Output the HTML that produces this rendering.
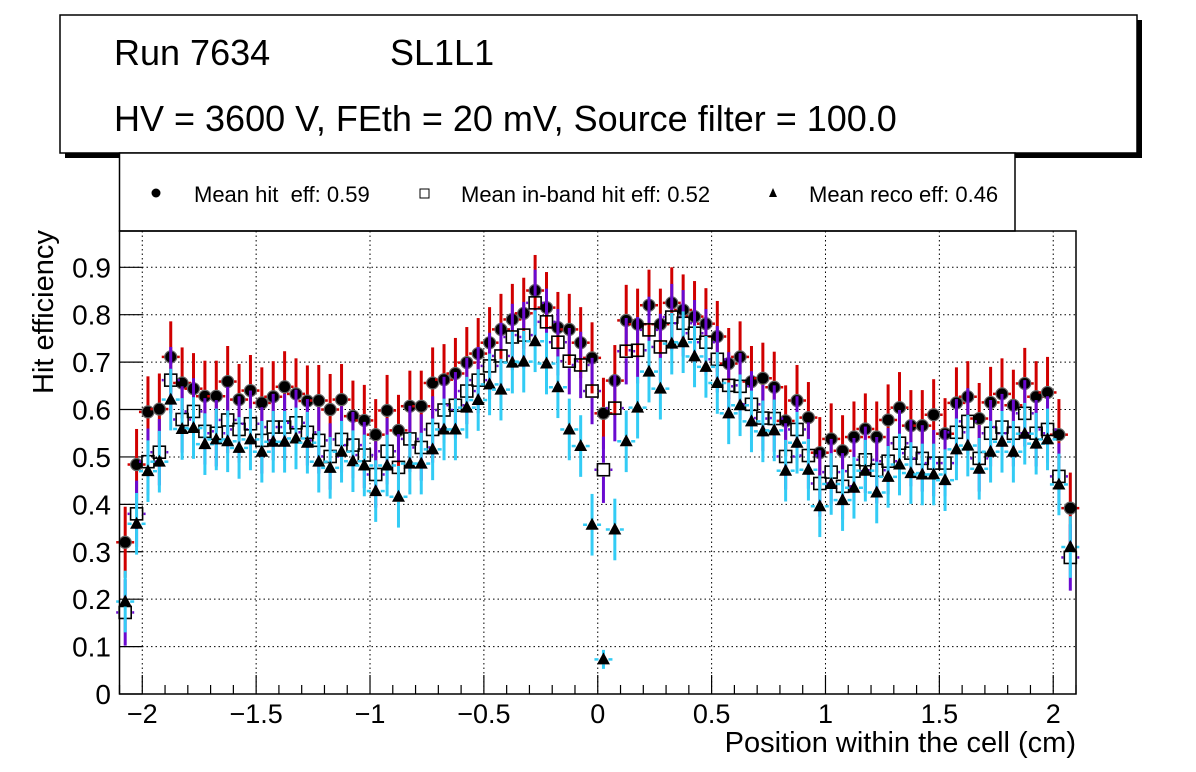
<!DOCTYPE html>
<html><head><meta charset="utf-8"><style>
html,body{margin:0;padding:0;background:#fff;}
svg{display:block;font-family:"Liberation Sans",Arial,sans-serif;}
</style></head><body>
<svg id="chart" width="1196" height="772" viewBox="0 0 1196 772" xmlns="http://www.w3.org/2000/svg">
  <rect x="0" y="0" width="1196" height="772" fill="#fff"/>
  <g>
    <rect x="65" y="20" width="1077" height="138" fill="#000"/>
    <rect x="60" y="15" width="1077" height="138" fill="#fff" stroke="#000" stroke-width="1.5"/>
    <text x="114" y="65" font-size="36">Run 7634</text>
    <text x="390" y="65" font-size="36">SL1L1</text>
    <text x="114" y="131" font-size="36">HV = 3600 V, FEth = 20 mV, Source filter = 100.0</text>
  </g>
  <g>
    <rect x="119.5" y="153" width="895.5" height="78" fill="#fff" stroke="#000" stroke-width="1.5"/>
    <circle cx="156" cy="193" r="4.5" fill="#000"/>
    <text x="194" y="202" font-size="22">Mean hit&#160; eff: 0.59</text>
    <rect x="420" y="189" width="9" height="9" fill="#fff" stroke="#000" stroke-width="1"/>
    <text x="461" y="202" font-size="22">Mean in-band hit eff: 0.52</text>
    <polygon points="773,188 769,197 777,197" fill="#000"/>
    <text x="809" y="202" font-size="22">Mean reco eff: 0.46</text>
  </g>
  <g id="grid"></g>
  <g id="axes"></g>
  <g id="marks"></g>
  <rect x="119.5" y="231" width="956.5" height="463" fill="none" stroke="#000" stroke-width="1.5"/>
  <text transform="translate(53,394) rotate(-90)" font-size="29">Hit efficiency</text>
  <text x="1076" y="752" font-size="29" text-anchor="end">Position within the cell (cm)</text>
</svg>
<script>
const hitEff = [0.320,0.484,0.595,0.601,0.711,0.656,0.644,0.628,0.628,0.659,0.621,0.640,0.614,0.627,0.648,
0.633,0.618,0.619,0.600,0.621,0.586,0.577,0.547,0.598,0.556,0.607,0.607,0.656,
0.663,0.676,0.699,0.718,0.741,0.769,0.790,0.803,0.851,0.815,0.773,0.769,0.741,0.709,0.592,
0.661,0.788,0.780,0.820,0.780,0.825,0.810,0.796,0.781,0.754,0.697,0.711,0.659,0.666,
0.647,0.576,0.619,0.583,0.509,0.538,0.513,0.542,0.559,0.542,0.578,0.604,0.566,
0.566,0.589,0.549,0.614,0.627,0.581,0.615,0.633,0.609,0.655,0.627,0.636,0.547,0.392];
const inbandEff = [0.172,0.380,0.490,0.510,0.662,0.579,0.596,0.554,0.550,0.578,0.558,0.570,0.535,0.563,0.563,
0.572,0.552,0.535,0.501,0.537,0.525,0.504,0.463,0.512,0.478,0.538,0.520,0.558,
0.599,0.609,0.639,0.662,0.692,0.713,0.753,0.757,0.825,0.785,0.742,0.702,0.694,0.639,0.473,
0.603,0.723,0.725,0.768,0.732,0.795,0.782,0.761,0.742,0.706,0.651,0.649,0.611,0.582,
0.581,0.501,0.558,0.503,0.444,0.468,0.438,0.470,0.494,0.472,0.491,0.529,0.508,
0.497,0.487,0.487,0.552,0.575,0.497,0.550,0.563,0.550,0.592,0.550,0.558,0.459,0.288];
const recoEff = [0.195,0.359,0.470,0.490,0.621,0.559,0.561,0.527,0.537,0.533,0.519,0.537,0.511,0.532,0.532,
0.539,0.530,0.490,0.477,0.511,0.491,0.482,0.428,0.482,0.416,0.486,0.486,0.516,
0.558,0.558,0.604,0.620,0.653,0.642,0.699,0.701,0.744,0.697,0.647,0.558,0.523,0.357,0.073,
0.347,0.533,0.604,0.680,0.644,0.739,0.742,0.712,0.690,0.656,0.592,0.609,0.575,0.554,
0.556,0.471,0.530,0.473,0.396,0.443,0.409,0.435,0.471,0.425,0.458,0.484,0.466,
0.463,0.463,0.451,0.516,0.524,0.475,0.511,0.532,0.511,0.549,0.528,0.537,0.442,0.310];
const xTickValues = [-2,-1.5,-1,-0.5,0,0.5,1,1.5,2];
const xTickLabels = ["\u22122","\u22121.5","\u22121","\u22120.5","0","0.5","1","1.5","2"];
const yTickValues = [0,0.1,0.2,0.3,0.4,0.5,0.6,0.7,0.8,0.9];
const yTickLabels = ["0","0.1","0.2","0.3","0.4","0.5","0.6","0.7","0.8","0.9"];
const xMin=-2.1, xMax=2.1, binWidth=0.05;
const hitErr=0.075, inbandErr=0.07, recoErr=0.065;

const L=119.5, R=1076, T=231, B=694;
const yPerUnit=(694-267.3)/0.9;
function xs(v){return L+(v-xMin)/(xMax-xMin)*(R-L);}
function ys(v){return B-v*yPerUnit;}
const NS="http://www.w3.org/2000/svg";
function mk(tag,attrs,parent){const e=document.createElementNS(NS,tag);for(const k in attrs)e.setAttribute(k,attrs[k]);parent.appendChild(e);return e;}
const grid=document.getElementById('grid'), axes=document.getElementById('axes'), marks=document.getElementById('marks');

xTickValues.forEach((v,i)=>{
  const x=xs(v);
  const g=mk('line',{x1:x,x2:x,y1:T,y2:B,stroke:'#000','stroke-width':1,'stroke-dasharray':'1.5,3'},grid);
  
  
  const t=mk('line',{x1:x,x2:x,y1:B,y2:B-19,stroke:'#000','stroke-width':1.2},axes);
  
  
  const lb=mk('text',{x:x,y:723,'font-size':27,'text-anchor':'middle'},axes);
  lb.textContent=xTickLabels[i];
  
  
});
for(let k=-21;k<=21;k++){
  if(k%5===0)continue;
  const x=xs(k/10);
  const t=mk('line',{x1:x,x2:x,y1:B,y2:B-9,stroke:'#000','stroke-width':1.2},axes);
  
  
}
yTickValues.forEach((v,i)=>{
  const y=ys(v);
  if(v>0){
    const g=mk('line',{x1:L,x2:R,y1:y,y2:y,stroke:'#000','stroke-width':1,'stroke-dasharray':'1.5,3'},grid);
    
    
  }
  const t=mk('line',{x1:L,x2:L+23,y1:y,y2:y,stroke:'#000','stroke-width':1.2},axes);
  
  
  const lb=mk('text',{x:111,y:y+10,'font-size':28,'text-anchor':'end'},axes);
  lb.textContent=yTickLabels[i];
  
  
});

function drawSeries(vals,err,color,kind){
  vals.forEach((v,i)=>{
    const cx=xs(xMin+(i+0.5)*binWidth), cy=ys(v);
    const e=(kind==='reco'&&v<0.1)?0.02:err;
    const gap=(kind==='inband')?7:5;
    const up=mk('line',{x1:cx,x2:cx,y1:ys(v+e),y2:cy-gap,stroke:color,'stroke-width':3},marks);
    
    
    const dn=mk('line',{x1:cx,x2:cx,y1:cy+gap,y2:ys(v-e),stroke:color,'stroke-width':3},marks);
    
    
    const hl=mk('line',{x1:cx-9,x2:cx-gap,y1:cy,y2:cy,stroke:color,'stroke-width':2.5},marks);
    
    
    const hr=mk('line',{x1:cx+gap,x2:cx+9,y1:cy,y2:cy,stroke:color,'stroke-width':2.5},marks);
    
    
    let m;
    if(kind==='hit'){
      m=mk('circle',{cx:cx,cy:cy,r:6,fill:'#000',stroke:'#666','stroke-width':1.2},marks);
    }else if(kind==='inband'){
      m=mk('rect',{x:cx-6,y:cy-6,width:12,height:12,fill:'none',stroke:'#000','stroke-width':1.6},marks);
    }else{
      m=mk('polygon',{points:`${cx},${cy-7} ${cx-6.5},${cy+5} ${cx+6.5},${cy+5}`,fill:'#000'},marks);
    }
    
    
  });
}
drawSeries(hitEff,hitErr,'#d00000','hit');
drawSeries(inbandEff,inbandErr,'#6a0ad0','inband');
drawSeries(recoEff,recoErr,'#33ccf5','reco');
</script>
</body></html>
